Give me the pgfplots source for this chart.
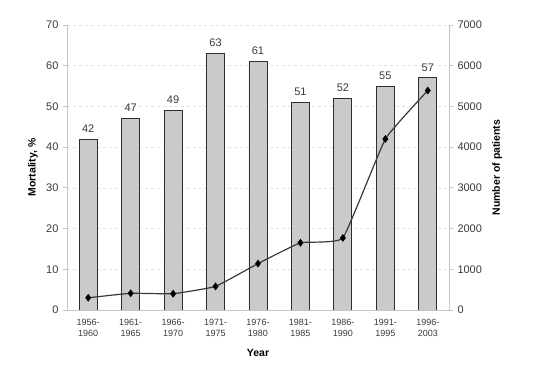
\documentclass[border=0pt]{standalone}
\usepackage{pgfplots}
\pgfplotsset{compat=1.18}
\usepackage{fontspec}
\setmainfont{Liberation Sans}
\definecolor{barfill}{HTML}{CACACA}
\definecolor{bardraw}{HTML}{2E2E2E}
\definecolor{axgray}{HTML}{C4C4C4}
\definecolor{ticktext}{HTML}{3A3A3A}
\begin{document}
\begin{tikzpicture}
\path[use as bounding box] (0,0) rectangle (534bp,367bp);
\begin{axis}[
  at={(67bp,57bp)}, anchor=south west,
  width=382bp, height=285bp, scale only axis,
  xmin=-0.5, xmax=8.5, ymin=0, ymax=70,
  axis x line*=bottom, axis y line*=left,
  axis line style={axgray, line width=0.8pt, -},
  ytick={0,10,...,70},
  xtick={0,...,8},
  xticklabels={{1956-\\1960},{1961-\\1965},{1966-\\1970},{1971-\\1975},{1976-\\1980},{1981-\\1985},{1986-\\1990},{1991-\\1995},{1996-\\2003}},
  xticklabel style={align=center, font=\fontsize{9bp}{11bp}\selectfont, text=ticktext, yshift=-2bp},
  yticklabel style={font=\fontsize{11bp}{13bp}\selectfont, text=ticktext, xshift=-1bp},
  /pgf/number format/assume math mode=true,
  tick align=outside,
  xtick style={draw=none},
  minor xtick={-0.5,0.5,...,8.5},
  minor x tick style={axgray, line width=0.8pt},
  minor tick length=4bp,
  major tick length=4bp,
  ytick style={axgray, line width=0.8pt},
  ymajorgrids, grid style={dashed, gray!22, line width=0.6pt},
  ylabel={Mortality, \%},
  xlabel={Year},
  every axis y label/.style={at={(axis description cs:-0.089,0.5)}, rotate=90, anchor=center, font=\bfseries\fontsize{10.5bp}{12bp}\selectfont},
  every axis x label/.style={at={(axis description cs:0.5,-0.151)}, anchor=center, font=\bfseries\fontsize{10.5bp}{12bp}\selectfont},
]
\addplot[ybar, bar width=18bp, fill=barfill, draw=bardraw, line width=0.9pt,
  nodes near coords,
  nodes near coords style={font=\fontsize{11bp}{13bp}\selectfont, text=ticktext, yshift=3bp}]
  coordinates {(0,42) (1,47) (2,49) (3,63) (4,61) (5,51) (6,52) (7,55) (8,57)};
\end{axis}
\begin{axis}[
  at={(67bp,57bp)}, anchor=south west,
  width=382bp, height=285bp, scale only axis,
  xmin=-0.5, xmax=8.5, ymin=0, ymax=7000,
  axis x line=none, axis y line*=right,
  axis line style={axgray, line width=0.8pt, -},
  ytick={0,1000,...,7000},
  scaled y ticks=false,
  /pgf/number format/1000 sep={},
  /pgf/number format/assume math mode=true,
  yticklabel style={font=\fontsize{11bp}{13bp}\selectfont, text=ticktext, xshift=1bp},
  tick align=outside,
  major tick length=4bp,
  ytick style={axgray, line width=0.8pt},
  ylabel={Number of patients},
  every axis y label/.style={at={(axis description cs:1.126,0.5)}, rotate=90, anchor=center, font=\bfseries\fontsize{10.5bp}{12bp}\selectfont},
]
\addplot[color=black!78, line width=1.2pt, smooth, tension=0.2,
  mark=diamond*, mark size=3bp, mark options={fill=black, draw=black, solid}]
  coordinates {(0,300) (1,410) (2,400) (3,580) (4,1140) (5,1650) (6,1770) (7,4200) (8,5390)};
\end{axis}
\end{tikzpicture}
\end{document}
